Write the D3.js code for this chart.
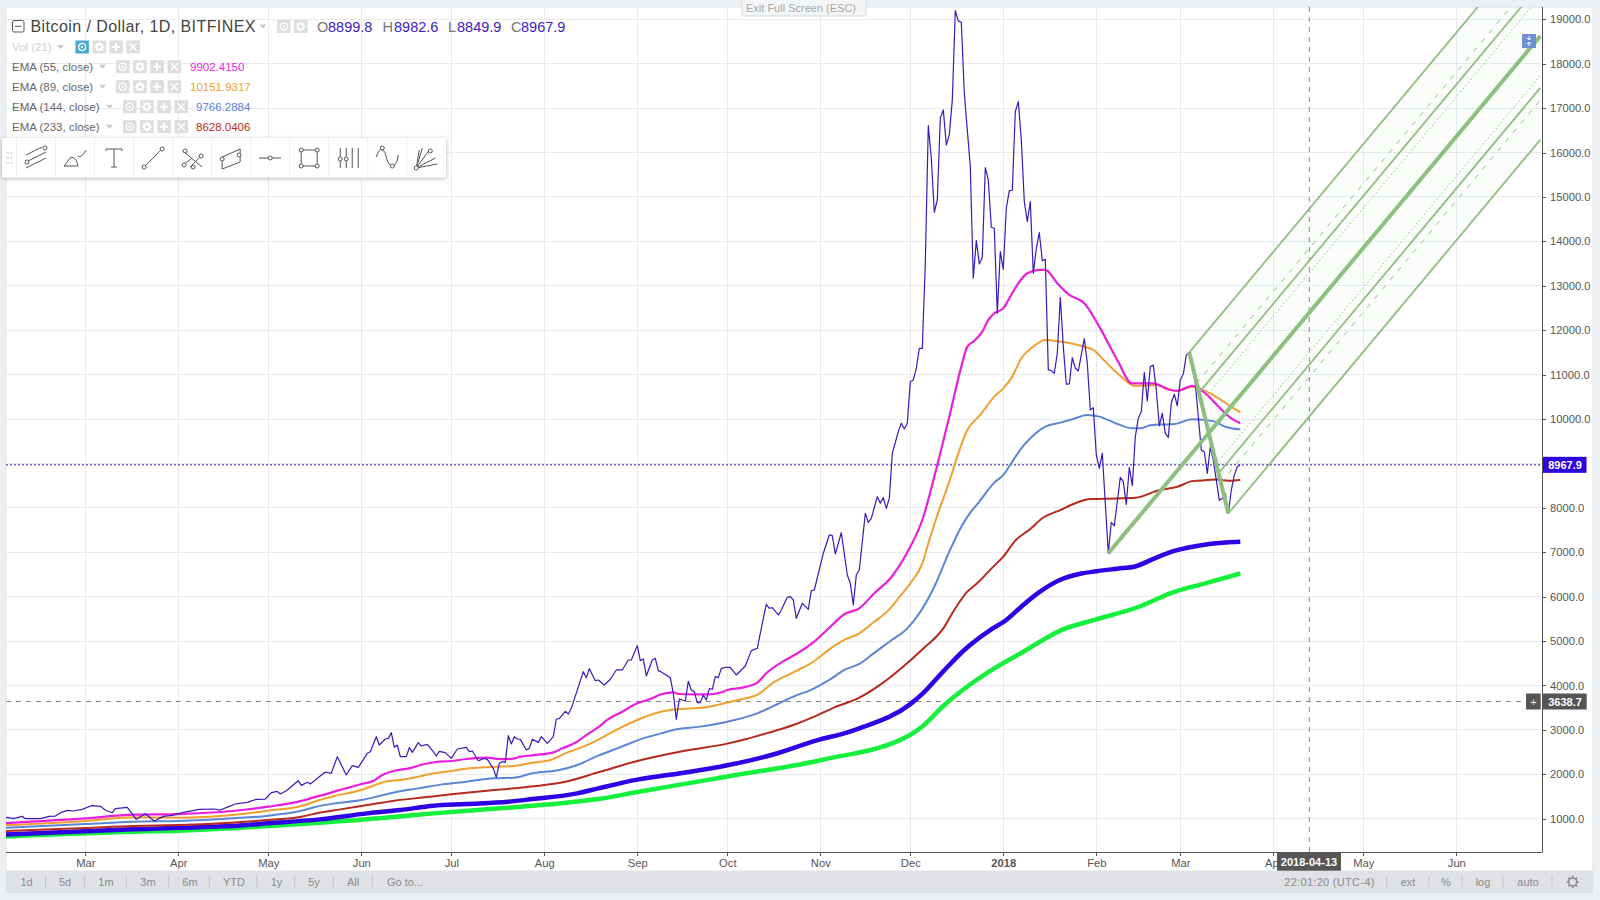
<!DOCTYPE html>
<html>
<head>
<meta charset="utf-8">
<script src="https://cdn.jsdelivr.net/npm/d3@7"></script>
<style>
  html, body { margin: 0; padding: 0; background: #edf0f3; overflow: hidden; }
  svg { display: block; font-family: "Liberation Sans", Arial, sans-serif; }
  .axis text { font-size: 11.2px; fill: #555; font-family: "Liberation Sans", Arial, sans-serif; }
  .axis path, .axis line { stroke: #555; shape-rendering: crispEdges; }
  .bar text { font-size: 11px; fill: #8c8c8c; }
</style>
</head>
<body>
<script>
// day numbers count from 2017-03-01
var baseDate = Date.UTC(2017, 2, 1);

var closeDays = [-27,-26,-24,-21,-20,-15,-12,-10,-8,-6,-4,-1,2,5,7,9,10,14,17,20,23,26,29,33,36,38,43,45,48,50,54,57,60,62,64,65,67,71,72,74,75,78,80,82,84,87,89,91,94,95,97,98,100,101,102,103,104,105,107,108,109,111,112,114,116,117,118,120,122,124,127,128,129,131,133,134,136,137,138,139,140,141,142,143,144,145,147,148,149,151,152,154,156,157,158,160,161,162,166,167,168,170,171,173,175,177,179,181,182,184,185,186,187,189,190,191,192,195,196,197,198,200,201,202,203,204,205,206,207,208,209,210,211,212,214,215,217,220,222,224,226,227,228,229,231,232,234,235,236,237,239,241,242,243,246,248,249,250,252,254,255,256,257,258,260,261,262,264,265,266,267,268,269,271,272,273,274,275,276,277,278,279,280,281,282,283,284,285,286,287,288,289,290,291,292,293,295,296,297,298,299,300,301,302,303,304,305,306,307,308,309,310,311,312,313,314,315,316,317,318,319,320,321,322,323,324,325,326,327,328,329,330,331,333,334,335,336,337,338,339,341,342,343,345,346,347,348,349,350,351,352,353,354,355,356,357,358,359,360,361,362,363,364,365,366,367,368,369,370,371,372,373,374,375,376,378,379,380,381,382,383,384,385];
var closeValues = [1020,1030,1000,1053,1000,1000,1053,1060,1143,1188,1173,1210,1293,1278,1180,1135,1225,1255,985,1113,948,1053,1075,1150,1180,1210,1218,1195,1278,1331,1368,1436,1443,1586,1616,1556,1631,1856,1751,1819,1781,1946,2051,2021,2397,1984,2194,2156,2472,2509,2847,2659,2794,2809,2937,2607,2659,2397,2397,2599,2494,2712,2637,2674,2509,2412,2517,2487,2359,2569,2607,2509,2524,2306,2359,2337,2134,1931,2247,2284,2269,2869,2682,2847,2794,2787,2547,2584,2787,2719,2847,2697,2847,3245,3252,3417,3357,3485,4311,4176,4378,4108,4123,4011,4139,4349,4349,4574,4574,4897,4559,4597,4214,4574,4612,4334,4304,4176,3823,3238,3696,3650,4094,3898,3861,3613,3613,3786,3673,3929,3914,4199,4176,4386,4416,4401,4236,4439,4784,4837,5512,5828,5738,5753,5587,5700,5985,6000,5925,5512,5850,5715,6135,6150,6976,7389,7374,6961,7442,6487,6300,5812,6487,6600,7876,7673,7763,8251,8101,8229,7989,8214,9227,9715,9903,9775,9903,10841,10879,11142,11592,11592,13507,16607,15871,14655,14933,16772,16960,16171,16397,17185,19197,18964,18934,17335,15683,13169,14017,13492,13634,15661,15383,14317,14295,12380,13769,13371,14745,15143,15151,16922,17147,16284,14895,14445,14895,13281,13844,14197,13567,13597,11105,11090,11030,11480,12741,11630,10782,10790,11382,11142,11082,11810,11255,10204,10256,9190,8890,9228,6976,7674,7591,8687,8590,8079,8913,8500,9603,10016,10166,11052,10406,11180,11213,10650,9847,10125,9675,9585,10365,10560,10298,10876,11011,11439,11499,11150,10800,10050,9299,9262,8774,9374,9074,8173,8211,8323,7873,8398,8736,8924,8967.9];

var ema55Days = [-27,0,16,31,49,61,72,77,80,84,88,92,96,99,103,108,113,117,122,127,134,138,142,145,149,156,159,163,167,171,174,179,184,188,192,196,198,203,208,212,214,219,224,227,234,237,243,248,253,258,263,269,274,279,284,288,292,294,296,299,301,303,306,308,311,314,318,320,324,328,333,338,344,349,356,361,364,369,374,378,382,385];
var ema55Values = [900,1008,1090,1105,1173,1270,1400,1496,1548,1631,1706,1781,1848,1984,2081,2134,2231,2276,2299,2344,2374,2340,2345,2397,2427,2494,2584,2697,2880,3060,3223,3410,3598,3688,3801,3846,3808,3801,3801,3846,3898,3951,4064,4274,4597,4709,4987,5300,5603,5738,6075,6465,6998,7726,8965,10053,11179,11630,11742,11967,12230,12380,12493,12718,13056,13281,13357,13357,13056,12793,12606,12080,11326,10801,10801,10665,10636,10748,10538,10260,10012,9902.4];

var ema89Days = [-27,0,16,31,49,61,72,77,83,92,96,100,105,111,115,122,128,137,143,149,155,160,166,171,178,184,190,195,203,207,213,219,224,229,236,243,247,253,258,263,268,271,275,279,281,285,288,291,294,298,303,306,309,312,316,320,325,332,336,340,345,350,357,364,369,376,382,385];
var ema89Values = [850,950,1030,1023,1083,1180,1285,1398,1511,1646,1743,1834,1871,1946,2006,2074,2134,2171,2186,2261,2321,2472,2622,2780,3035,3223,3373,3448,3486,3508,3598,3696,3786,4049,4296,4551,4762,5024,5175,5436,5714,5962,6300,6750,7200,8026,8589,9227,9753,10068,10504,10691,10954,11367,11630,11780,11743,11645,11555,11292,10970,10741,10763,10628,10726,10538,10275,10151.9];

var ema144Days = [-27,0,16,31,49,61,72,77,83,92,98,104,111,119,127,136,143,149,158,164,171,178,185,192,196,205,214,224,229,236,243,248,253,258,263,268,274,278,283,288,292,295,298,303,306,309,312,315,320,325,329,334,338,344,349,352,355,363,369,376,380,385];
var ema144Values = [795,880,933,948,1008,1068,1180,1270,1345,1420,1511,1608,1683,1773,1834,1909,1924,2021,2096,2209,2419,2600,2787,2922,2998,3073,3185,3373,3523,3748,3936,4124,4349,4484,4735,4985,5286,5624,6224,7013,7576,7891,8139,8567,8740,9040,9340,9566,9829,9919,9994,10091,10054,9889,9790,9791,9862,9885,9997,9952,9825,9766.3];

var ema233Days = [-27,0,16,31,49,61,72,78,85,94,103,113,122,133,143,153,160,171,184,199,214,220,227,236,243,249,258,265,272,279,286,290,294,297,303,306,310,315,319,325,330,335,344,350,358,364,369,374,377,381,385];
var ema233Values = [720,790,835,858,910,970,1045,1135,1210,1308,1406,1481,1548,1623,1683,1758,1834,2044,2300,2520,2690,2787,2922,3110,3298,3486,3726,4020,4390,4810,5286,5737,6112,6285,6698,6900,7261,7523,7764,7950,8102,8196,8211,8226,8398,8473,8601,8624,8639,8609,8628];

var ema377Days = [-27,16,31,49,61,78,94,105,116,127,141,149,164,171,184,199,214,229,245,253,258,275,279,286,293,302,307,312,318,325,332,337,344,350,356,363,373,385];
var ema377Values = [645,760,798,835,895,985,1120,1195,1293,1331,1383,1443,1571,1683,1880,2030,2203,2440,2787,2922,3035,3580,3810,4317,4799,5264,5474,5774,6100,6380,6520,6570,6630,6680,6850,7029,7170,7236];

var ema610Days = [-27,16,31,49,61,78,98,116,138,155,171,184,214,245,275,279,286,293,303,312,325,337,351,363,373,385];
var ema610Values = [600,707,730,783,835,910,1008,1120,1233,1323,1443,1600,1950,2317,2892,3076,3538,3925,4385,4731,5236,5488,5767,6109,6292,6521];

var priceTicks = [1000,2000,3000,4000,5000,6000,7000,8000,9000,10000,11000,12000,13000,14000,15000,16000,17000,18000,19000];
var monthDays = [0,31,61,92,122,153,184,214,245,275,306,337,365,396,426,457];
var monthLabels = ['Mar','Apr','May','Jun','Jul','Aug','Sep','Oct','Nov','Dec','2018','Feb','Mar','Apr','May','Jun'];

var forkDays = [341,368,381];
var forkPrices = [6976,11499,7873];
var forkEndDay = 485;
var forkLevels = [1,0.618,0.5,0.382];

var lastClose = 8967.9;
var crossPrice = 3638.7;
var crossDay = 408;

var rangeButtons = ['1d','5d','1m','3m','6m','YTD','1y','5y','All','Go to...'];
var rangeX = [26.5,65,106,148,190,234,276.5,314,353,405];
var rangeSeps = [45.5,84.6,126.3,168.4,209.3,256.8,294.7,333.3,372.4];

var emaRows = [
  {name:'EMA (55, close)', value:'9902.4150', color:'#f01ee0', tri:99, btn:116, val:190},
  {name:'EMA (89, close)', value:'10151.9317', color:'#f5a02e', tri:99, btn:116, val:190},
  {name:'EMA (144, close)', value:'9766.2884', color:'#5a80d8', tri:106, btn:123, val:196},
  {name:'EMA (233, close)', value:'8628.0406', color:'#c0281c', tri:106, btn:123, val:196}
];

var W = 1600, H = 900;
var plot = {left: 6, right: 1542, top: 7, bottom: 852.3};
var dayMs = 86400000;
function toDate(d) { return new Date(baseDate + d * dayMs); }

var x = d3.scaleUtc().domain([toDate(0), toDate(457)]).range([85.3, 85.3 + 457 * 3]);
var y = d3.scaleLinear().domain([1000, 19000]).range([818.7, 19.3]);

var svg = d3.select('body').append('svg').attr('width', W).attr('height', H);

svg.append('rect').attr('width', W).attr('height', H).attr('fill', '#edf0f3');
svg.append('rect').attr('x', plot.left).attr('y', plot.top).attr('width', 1593 - plot.left).attr('height', 871 - plot.top)
  .attr('fill', '#fff').attr('stroke', '#dfe3e8');

svg.append('defs').append('clipPath').attr('id', 'plotClip').append('rect')
  .attr('x', plot.left).attr('y', plot.top).attr('width', plot.right - plot.left).attr('height', plot.bottom - plot.top);

// grid
var grid = svg.append('g').attr('stroke', '#e6ebf0').attr('shape-rendering', 'crispEdges');
grid.selectAll('.h').data(priceTicks).enter().append('line')
  .attr('x1', plot.left).attr('x2', plot.right).attr('y1', y).attr('y2', y);
grid.selectAll('.v').data(monthDays).enter().append('line')
  .attr('y1', plot.top).attr('y2', plot.bottom)
  .attr('x1', function(d) { return x(toDate(d)); })
  .attr('x2', function(d) { return x(toDate(d)); });

var chart = svg.append('g').attr('clip-path', 'url(#plotClip)');

// crosshair and last price
chart.append('line').attr('x1', plot.left).attr('x2', plot.right).attr('y1', y(crossPrice)).attr('y2', y(crossPrice))
  .attr('stroke', '#888').attr('stroke-dasharray', '5,5');
chart.append('line').attr('x1', x(toDate(crossDay))).attr('x2', x(toDate(crossDay))).attr('y1', plot.top).attr('y2', plot.bottom)
  .attr('stroke', '#888').attr('stroke-dasharray', '5,5');
chart.append('line').attr('x1', plot.left).attr('x2', plot.right).attr('y1', y(lastClose)).attr('y2', y(lastClose))
  .attr('stroke', '#2a10c0').attr('stroke-width', 1).attr('stroke-dasharray', '2,2');

var line = d3.line()
  .x(function(d) { return x(toDate(d[0])); })
  .y(function(d) { return y(d[1]); });
var smooth = d3.line()
  .curve(d3.curveMonotoneX)
  .x(function(d) { return x(toDate(d[0])); })
  .y(function(d) { return y(d[1]); });

function drawSeries(days, values, color, width, gen) {
  chart.append('path')
    .datum(d3.zip(days, values))
    .attr('fill', 'none')
    .attr('stroke', color)
    .attr('stroke-width', width)
    .attr('stroke-linejoin', 'round')
    .attr('d', gen);
}

drawSeries(ema610Days, ema610Values, '#14f03c', 4.5, smooth);
drawSeries(ema377Days, ema377Values, '#2d00e6', 4.5, smooth);
drawSeries(ema233Days, ema233Values, '#b52a1c', 2, smooth);
drawSeries(ema144Days, ema144Values, '#5b86d6', 2, smooth);
drawSeries(ema89Days, ema89Values, '#f0a030', 2, smooth);
drawSeries(ema55Days, ema55Values, '#ea1edc', 2.2, smooth);
drawSeries(closeDays, closeValues, '#3a18bc', 1.2, line);

// pitchfork
var forkColor = '#8dbf7f';
var midDay = (forkDays[1] + forkDays[2]) / 2;
var midPrice = (forkPrices[1] + forkPrices[2]) / 2;
var forkSlope = (midPrice - forkPrices[0]) / (midDay - forkDays[0]);
function forkRay(side, level) {
  var startDay = midDay + side * level * (forkDays[1] - midDay);
  var startPrice = midPrice + side * level * (forkPrices[1] - midPrice);
  return [[startDay, startPrice], [forkEndDay, startPrice + forkSlope * (forkEndDay - startDay)]];
}
var upper = forkRay(1, 1), lower = forkRay(-1, 1);
chart.append('path').datum([upper[0], upper[1], lower[1], lower[0]])
  .attr('d', function(d) { return line(d) + 'Z'; })
  .attr('fill', forkColor).attr('fill-opacity', 0.03);
forkLevels.forEach(function(level) {
  [1, -1].forEach(function(side) {
    var dash = level === 0.618 ? '5,7' : level === 0.382 ? '1.5,2.5' : null;
    chart.append('path').datum(forkRay(side, level)).attr('d', line)
      .attr('fill', 'none').attr('stroke', forkColor)
      .attr('stroke-width', level === 0.382 || level === 0.618 ? 1 : 1.8)
      .attr('stroke-dasharray', dash);
  });
});
chart.append('path').datum([[forkDays[0], forkPrices[0]], [forkEndDay, forkPrices[0] + forkSlope * (forkEndDay - forkDays[0])]])
  .attr('d', line).attr('fill', 'none').attr('stroke', forkColor).attr('stroke-width', 4);
chart.append('path').datum([[forkDays[1], forkPrices[1]], [forkDays[2], forkPrices[2]]])
  .attr('d', line).attr('fill', 'none').attr('stroke', forkColor).attr('stroke-width', 4);

// axes
var yAxis = d3.axisRight(y).tickValues(priceTicks).tickSize(4).tickPadding(4)
  .tickFormat(function(d) { return d.toFixed(1); });
var yG = svg.append('g').attr('class', 'axis').attr('transform', 'translate(' + plot.right + ',0)').call(yAxis);
yG.select('.domain').attr('d', 'M0,' + plot.top + 'V' + plot.bottom);

var xAxis = d3.axisBottom(x).tickValues(monthDays.map(toDate)).tickSize(4).tickPadding(3)
  .tickFormat(function(d, i) { return monthLabels[i]; });
var xG = svg.append('g').attr('class', 'axis').attr('transform', 'translate(0,' + plot.bottom + ')').call(xAxis);
xG.select('.domain').attr('d', 'M' + plot.left + ',0H' + plot.right);
xG.selectAll('.tick text').style('font-weight', function(d, i) { return monthLabels[i] === '2018' ? 'bold' : null; });

// bottom bar
var bar = svg.append('g').attr('class', 'bar');
bar.append('rect').attr('x', plot.left).attr('y', 871).attr('width', 1593 - plot.left).attr('height', 22).attr('fill', '#e0e1e5');
bar.selectAll('.btn').data(rangeButtons).enter().append('text')
  .attr('x', function(d, i) { return rangeX[i]; }).attr('y', 886).attr('text-anchor', 'middle').text(function(d) { return d; });
var rightSeps = [1386.7, 1429, 1462, 1503, 1552];
bar.selectAll('.sep').data(rangeSeps.concat(rightSeps)).enter().append('line')
  .attr('x1', function(d) { return d; }).attr('x2', function(d) { return d; }).attr('y1', 875).attr('y2', 889).attr('stroke', '#c6c7cb');
bar.append('text').attr('x', 1329.5).attr('y', 886).attr('text-anchor', 'middle').style('letter-spacing', '0.3px').text('22:01:20 (UTC-4)');
[['ext', 1408], ['%', 1446], ['log', 1483], ['auto', 1528]].forEach(function(t) {
  bar.append('text').attr('x', t[1]).attr('y', 886).attr('text-anchor', 'middle').text(t[0]);
});
var gear = bar.append('g').attr('transform', 'translate(1572.7,882)');
gear.append('circle').attr('r', 4).attr('fill', 'none').attr('stroke', '#8c8c8c').attr('stroke-width', 1.6);
d3.range(8).forEach(function(i) {
  gear.append('line').attr('x1', 0).attr('x2', 0).attr('y1', -3.8).attr('y2', -6.2).attr('stroke', '#8c8c8c').attr('stroke-width', 1.6)
    .attr('transform', 'rotate(' + i * 45 + ')');
});

// price and date labels
function label(lx, ly, w, h, fill, txt, cx, bold) {
  svg.append('rect').attr('x', lx).attr('y', ly).attr('width', w).attr('height', h).attr('fill', fill);
  svg.append('text').attr('x', cx).attr('y', ly + h / 2 + 4).attr('fill', '#fff').attr('font-size', 11)
    .attr('text-anchor', 'middle').attr('font-weight', bold ? 'bold' : null).text(txt);
}
label(1543, y(lastClose) - 8, 43.5, 16, '#2d00e0', lastClose.toFixed(1), 1565, true);
label(1526, y(crossPrice) - 8, 14.7, 16, '#555', '+', 1533.4);
label(1542.3, y(crossPrice) - 8, 44.4, 16, '#555', crossPrice.toFixed(1), 1565, true);
label(1277, plot.bottom, 64, 18.4, '#555', '2018-04-13', 1309, true);

// exit full screen tab
svg.append('rect').attr('x', 742).attr('y', -2).attr('width', 124).attr('height', 18).attr('rx', 2)
  .attr('fill', '#f4f5f6').attr('stroke', '#d5d8dc');
svg.append('text').attr('x', 801).attr('y', 12).attr('text-anchor', 'middle').attr('font-size', 11).attr('fill', '#a8a8a8').text('Exit Full Screen (ESC)');

// legend
var legend = svg.append('g');
function triangle(tx, ty) {
  legend.append('path').attr('d', 'M' + tx + ',' + (ty - 2) + 'h7l-3.5,4z').attr('fill', '#c8c8c8');
}
function legendButton(bx, cy, kind, fill) {
  var g = legend.append('g').attr('transform', 'translate(' + bx + ',' + cy + ')');
  g.append('rect').attr('x', 0).attr('y', -6.5).attr('width', 13.5).attr('height', 13).attr('fill', fill || '#dddddd');
  var c = '#fff';
  if (kind === 0) {
    g.append('circle').attr('cx', 6.7).attr('r', 3.6).attr('fill', 'none').attr('stroke', c).attr('stroke-width', 1.3);
    g.append('circle').attr('cx', 6.7).attr('r', 1.2).attr('fill', c);
  } else if (kind === 1) {
    g.append('circle').attr('cx', 6.7).attr('r', 2.8).attr('fill', 'none').attr('stroke', c).attr('stroke-width', 2);
    d3.range(4).forEach(function(i) {
      g.append('line').attr('x1', 6.7).attr('x2', 6.7).attr('y1', -5).attr('y2', 5).attr('stroke', c).attr('stroke-width', 1.5)
        .attr('stroke-dasharray', '2,6').attr('transform', 'rotate(' + i * 45 + ' 6.7 0)');
    });
  } else if (kind === 2) {
    g.append('path').attr('d', 'M6.7,-4V4M2.7,0H10.7').attr('stroke', c).attr('stroke-width', 2);
  } else {
    g.append('path').attr('d', 'M3,-3.7L10.4,3.7M10.4,-3.7L3,3.7').attr('stroke', c).attr('stroke-width', 1.4);
  }
}
legend.append('rect').attr('x', 12.5).attr('y', 20.5).attr('width', 11.5).attr('height', 11.5).attr('rx', 1.5).attr('fill', 'none').attr('stroke', '#555');
legend.append('line').attr('x1', 15).attr('x2', 21.5).attr('y1', 26.3).attr('y2', 26.3).attr('stroke', '#555');
legend.append('text').attr('x', 30.5).attr('y', 32).attr('font-size', 16).attr('fill', '#444').attr('textLength', 225).text('Bitcoin / Dollar, 1D, BITFINEX');
triangle(259.5, 26.5);
legendButton(277, 26.5, 0);
legendButton(294, 26.5, 1);
[['O', 317, '#777'], ['8899.8', 328, '#3d1cc4'], ['H', 382.5, '#777'], ['8982.6', 394, '#3d1cc4'],
 ['L', 448, '#777'], ['8849.9', 457, '#3d1cc4'], ['C', 511, '#777'], ['8967.9', 521, '#3d1cc4']].forEach(function(t) {
  legend.append('text').attr('x', t[1]).attr('y', 32).attr('font-size', 14.5).attr('fill', t[2]).text(t[0]);
});

legend.append('text').attr('x', 12).attr('y', 51).attr('font-size', 11.5).attr('fill', '#cfcfcf').text('Vol (21)');
triangle(57, 47);
legendButton(75.4, 47, 0, '#4aa8d8');
legendButton(92.6, 47, 1);
legendButton(109.3, 47, 2);
legendButton(126.3, 47, 3);

emaRows.forEach(function(row, i) {
  var cy = 66.7 + i * 20;
  legend.append('text').attr('x', 12).attr('y', cy + 4).attr('font-size', 11.5).attr('fill', '#666').text(row.name);
  triangle(row.tri, cy);
  [0, 1, 2, 3].forEach(function(k) { legendButton(row.btn + k * 17.2, cy, k); });
  legend.append('text').attr('x', row.val).attr('y', cy + 4).attr('font-size', 11.5).attr('fill', row.color).text(row.value);
});

// blue badge on the scale side
svg.append('rect').attr('x', 1522).attr('y', 34).attr('width', 14).attr('height', 14).attr('fill', '#6f8fd8');
svg.append('path').attr('d', 'M1529,36v3M1527,38l2,2l2,-2M1529,46v-3M1527,44l2,-2l2,2').attr('stroke', '#fff').attr('fill', 'none');

// drawing toolbar
var defs = svg.select('defs');
var blur = defs.append('filter').attr('id', 'shadow').attr('x', '-5%').attr('y', '-20%').attr('width', '110%').attr('height', '150%');
blur.append('feDropShadow').attr('dx', 0).attr('dy', 1).attr('stdDeviation', 2).attr('flood-color', '#000').attr('flood-opacity', 0.3);
var tb = svg.append('g');
tb.append('rect').attr('x', 2).attr('y', 138).attr('width', 444).attr('height', 39.5).attr('fill', '#fff').attr('filter', 'url(#shadow)');
d3.range(11).forEach(function(i) {
  tb.append('line').attr('x1', 16.5 + i * 39.03).attr('x2', 16.5 + i * 39.03).attr('y1', 138).attr('y2', 177.5).attr('stroke', '#efefef');
});
d3.range(6).forEach(function(i) {
  tb.append('circle').attr('cx', 8 + (i % 2) * 3.5).attr('cy', 153 + Math.floor(i / 2) * 5).attr('r', 0.9).attr('fill', '#ccc');
});

var toolIcons = [
  {p: 'M2,9L18,1M2,16L22,6M2,22L22,12', c: [[21,2],[3,16]]},
  {p: 'M1,20L8,11Q14,12 15,20ZM15,10Q18,13 23,4', c: []},
  {p: 'M4,3H20M12,3V21M9,21H15M4,3V5M20,3V5', c: []},
  {p: 'M4,20L20,4', c: [[3,21],[21,3]]},
  {p: 'M4,6L22,21M2,20L12,12M10,21L22,9', c: [[5,5],[4,19],[13,21],[21,10]]},
  {p: 'M3,11L21,3V16L3,23Z', c: [[3,13],[20,9]]},
  {p: 'M1,12H23', c: [[12,12]]},
  {p: 'M4,4H20V20H4Z', c: [[4,4],[20,4],[4,20],[20,20]]},
  {p: 'M4,2V22M10,2V22M16,2V22M22,2V22', c: [[4,13],[10,13]]},
  {p: 'M1,11Q5,-2 10,7Q13,22 18,20Q22,18 23,9', c: [[7,2],[17,20]]},
  {p: 'M2,22L8,2M2,22L15,4M2,22L21,12M2,22L23,18M2,22L5,4', c: [[16,5],[2,22]]}
];
toolIcons.forEach(function(icon, i) {
  var g = tb.append('g').attr('transform', 'translate(' + (24 + i * 39.03) + ',146)')
    .attr('fill', 'none').attr('stroke', '#555').attr('stroke-width', 1);
  g.append('path').attr('d', icon.p);
  icon.c.forEach(function(pt) {
    g.append('circle').attr('cx', pt[0]).attr('cy', pt[1]).attr('r', 2).attr('fill', '#fff');
  });
});
</script>
</body>
</html>
